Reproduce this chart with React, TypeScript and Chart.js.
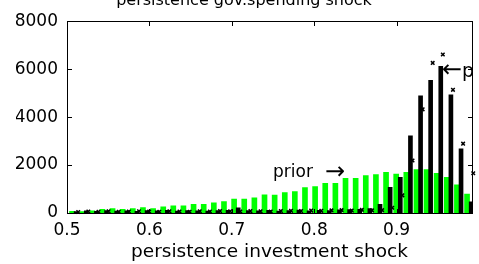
import React, { useEffect, useRef } from "react";
import { Chart, registerables } from "chart.js";

Chart.register(...registerables);

// Bin centres of the prior histogram (persistence investment shock)
const priorX = [
  0.5061, 0.5184, 0.5307, 0.543, 0.5553, 0.5676, 0.5799, 0.5922, 0.6045, 0.6168,
  0.629, 0.6413, 0.6536, 0.6659, 0.6782, 0.6905, 0.7028, 0.7151, 0.7274, 0.7397,
  0.752, 0.7643, 0.7765, 0.7888, 0.8011, 0.8134, 0.8257, 0.838, 0.8503, 0.8626,
  0.8749, 0.8872, 0.8995, 0.9118, 0.9241, 0.9363, 0.9486, 0.9609, 0.9732, 0.9855,
];
const priorCounts = [
  70, 60, 90, 155, 183, 155, 183, 225, 183, 253,
  295, 295, 366, 366, 421, 476, 577, 577, 632, 758,
  745, 855, 897, 1065, 1107, 1234, 1234, 1444, 1444, 1558,
  1600, 1698, 1628, 1698, 1810, 1810, 1656, 1488, 1179, 786,
];

// Posterior histogram (black bars)
const postX = [
  0.5111, 0.5234, 0.5357, 0.548, 0.5603, 0.5726, 0.5849, 0.5972, 0.6095, 0.6218,
  0.634, 0.6463, 0.6586, 0.6709, 0.6832, 0.6955, 0.7078, 0.7201, 0.7324, 0.7447,
  0.757, 0.7693, 0.7815, 0.7938, 0.8061, 0.8184, 0.8307, 0.843, 0.8553, 0.8676,
  0.8799, 0.8922, 0.9045, 0.9168, 0.9291, 0.9413, 0.9536, 0.9659, 0.9782, 0.9905,
];
const postCounts = [
  60, 90, 70, 100, 80, 90, 70, 100, 90, 110,
  80, 100, 90, 80, 100, 110, 220, 100, 90, 110,
  80, 100, 120, 90, 110, 100, 130, 140, 150, 180,
  366, 1067, 1488, 3214, 4884, 5530, 6119, 4926, 2680, 463,
];

// Second posterior draw shown with 'x' markers
const markX = [
  0.5136, 0.5259, 0.5382, 0.5505, 0.5628, 0.5751, 0.5874, 0.5997, 0.612, 0.6243,
  0.6365, 0.6488, 0.6611, 0.6734, 0.6857, 0.698, 0.7103, 0.7226, 0.7349, 0.7472,
  0.7595, 0.7718, 0.784, 0.7963, 0.8086, 0.8209, 0.8332, 0.8455, 0.8578, 0.8701,
  0.8824, 0.8947, 0.907, 0.9193, 0.9316, 0.9438, 0.9561, 0.9684, 0.9807, 0.993,
];
const markCounts = [
  40, 60, 50, 70, 50, 60, 70, 60, 50, 70,
  60, 50, 70, 60, 80, 70, 60, 80, 70, 60,
  80, 90, 80, 100, 90, 110, 120, 100, 130, 110,
  120, 220, 737, 2189, 4324, 6261, 6610, 5137, 2893, 1655,
];

const xTicks = [0.5, 0.6, 0.7, 0.8, 0.9];
const yTicks = [0, 2000, 4000, 6000, 8000];

const titleText = "persistence gov.spending shock";
const xLabel = "persistence investment shock";
const priorLabel = "prior";
const postLabel = "p";

const FONT = "'DejaVu Sans', sans-serif";

const framePlugin = {
  id: "frame",
  afterDraw(chart: any) {
    const { ctx, chartArea } = chart;
    const left = Math.round(chartArea.left);
    const right = Math.round(chartArea.right);
    const top = Math.round(chartArea.top);
    const bottom = Math.round(chartArea.bottom);
    const xs = chart.scales.x;
    const ys = chart.scales.y;
    ctx.save();
    ctx.globalAlpha = 1;
    ctx.globalCompositeOperation = "source-over";
    ctx.fillStyle = "#000";
    // box
    ctx.fillRect(left, top, right - left + 1, 1);
    ctx.fillRect(left, bottom, right - left + 1, 1);
    ctx.fillRect(left, top, 1, bottom - top + 1);
    ctx.fillRect(right, top, 1, bottom - top + 1);
    const tl = 4;
    for (const v of xTicks) {
      const px = Math.round(xs.getPixelForValue(v));
      ctx.fillRect(px, bottom - tl, 1, tl);
      ctx.fillRect(px, top + 1, 1, tl);
    }
    for (const v of yTicks) {
      const py = Math.round(ys.getPixelForValue(v));
      ctx.fillRect(left + 1, py, tl, 1);
      ctx.fillRect(right - tl, py, tl, 1);
    }

    // annotations
    ctx.font = `17px ${FONT}`;
    ctx.textAlign = "left";
    ctx.textBaseline = "alphabetic";
    ctx.fillText(priorLabel, 273, 177);
    ctx.font = `24px ${FONT}`;
    ctx.textBaseline = "middle";
    ctx.fillText("\u2192", 325, 173);
    ctx.fillText("\u2190", 442, 71);
    ctx.beginPath();
    ctx.rect(0, 0, right + 1, chart.height);
    ctx.clip();
    ctx.font = `19px ${FONT}`;
    ctx.textBaseline = "alphabetic";
    ctx.fillText(postLabel, 462, 77);
    ctx.restore();
  },
};

export default function App() {
  const ref = useRef<HTMLCanvasElement | null>(null);
  useEffect(() => {
    if (!ref.current) return;
    const chart = new Chart(ref.current, {
      type: "bar",
      data: {
        datasets: [
          {
            type: "scatter",
            label: "x",
            data: markX.map((x, i) => ({ x, y: markCounts[i] })),
            pointStyle: "crossRot",
            radius: 2.5,
            borderWidth: 1.5,
            borderColor: "#000",
            backgroundColor: "#000",
            showLine: false,
            clip: false,
            order: 0,
          } as any,
          {
            label: "posterior",
            data: postX.map((x, i) => ({ x, y: postCounts[i] })),
            backgroundColor: "#000",
            barThickness: 4,
            grouped: false,
            order: 1,
          },
          {
            label: "prior",
            data: priorX.map((x, i) => ({ x, y: priorCounts[i] })),
            backgroundColor: "#00ff00",
            barThickness: 5,
            grouped: false,
            order: 2,
          },
        ],
      },
      options: {
        animation: false,
        responsive: false,
        maintainAspectRatio: false,
        layout: { padding: { left: 16, right: 7, top: 0, bottom: 0 } },
        plugins: {
          legend: { display: false },
          tooltip: { enabled: false },
          title: {
            display: true,
            text: titleText,
            color: "#000",
            font: { family: FONT, size: 16, weight: "normal" },
            padding: { top: -9, bottom: 11 },
          },
        },
        scales: {
          x: {
            type: "linear",
            min: 0.5,
            max: 0.9915,
            offset: false,
            grid: { display: false, drawTicks: false },
            border: { display: false },
            ticks: {
              stepSize: 0.1,
              includeBounds: false,
              autoSkip: false,
              maxRotation: 0,
              padding: 7,
              color: "#000",
              font: { family: FONT, size: 17 },
              callback: (v: any) => Number(v).toFixed(1),
            },
            title: {
              display: true,
              text: xLabel,
              color: "#000",
              font: { family: FONT, size: 18.5 },
              padding: { top: 0, bottom: 1 },
            },
            afterFit: (s: any) => {
              s.height = 51;
            },
          },
          y: {
            min: 0,
            max: 8000,
            grid: { display: false, drawTicks: false },
            border: { display: false },
            ticks: {
              stepSize: 2000,
              padding: 9,
              color: "#000",
              font: { family: FONT, size: 17 },
              callback: (v: any) => String(v),
            },
            afterFit: (s: any) => {
              s.width = 51;
            },
          },
        },
      },
      plugins: [framePlugin],
    });
    return () => chart.destroy();
  }, []);
  return (
    <div style={{ position: "fixed", left: 0, top: 0, width: 479, height: 264, background: "#fff" }}>
      <canvas ref={ref} width={479} height={264} style={{ width: 479, height: 264 }} />
    </div>
  );
}
